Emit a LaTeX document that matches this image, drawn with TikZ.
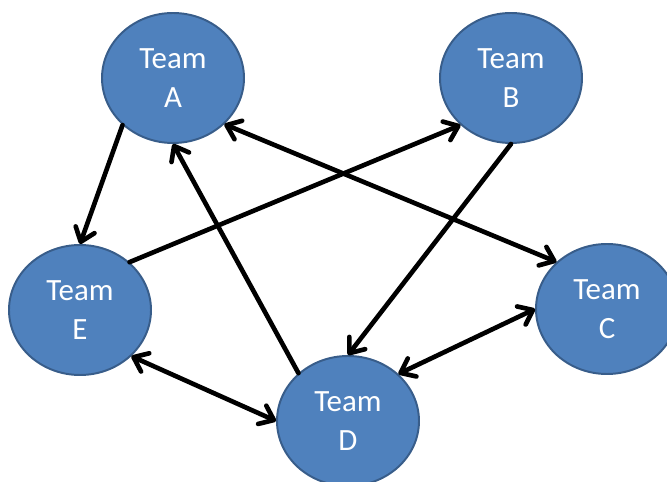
\documentclass[tikz,border=0pt]{standalone}
\usepackage{fontspec}
\setmainfont{Carlito}
\usepackage{xcolor}
\usetikzlibrary{positioning}
\usetikzlibrary{arrows.meta, shapes.geometric}

\definecolor{teamfill}{HTML}{4F81BD}
\definecolor{teamdraw}{HTML}{385D8A}

\begin{document}
\begin{tikzpicture}
			\tikzstyle{team} = [draw=teamdraw, fill=teamfill, ellipse, line width=1.4pt, minimum width=3.55cm, minimum height=3.25cm, inner sep=0pt, text=white, align=center, font=\fontsize{22}{28}\selectfont]
			\tikzstyle{line} = [draw, line width=3.3pt, line cap=round, -{Straight Barb[length=3.2mm, width=5mm, round]}]
			\tikzstyle{both} = [line, {Straight Barb[length=3.2mm, width=5mm, round]}-{Straight Barb[length=3.2mm, width=5mm, round]}]
			
			\useasboundingbox (0,0) rectangle (16.675,-12.05);
			
			\node [team] (teamA) at (4.325,-1.95) {Team\\A};
			\node [team] (teamB) at (12.775,-1.95) {Team\\B};
			\node [team] (teamE) at (2.0,-7.75) {Team\\E};
			\node [team] (teamC) at (15.175,-7.725) {Team\\C};
			\node [team] (teamD) at (8.7,-10.525) {Team\\D};
			
			\path [line] (teamA.223) -- (teamE.north);
			\path [line] (teamE.44) -- (teamB.223);
			\path [both] (teamA.318) -- (teamC.137);
			\path [line] (teamD.136) -- (teamA.south);
			\path [line] (teamB.south) -- (teamD.north);
			\path [both] (teamE.318) -- (teamD.west);
			\path [both] (teamD.43) -- (teamC.west);
			\end{tikzpicture}
\end{document}
